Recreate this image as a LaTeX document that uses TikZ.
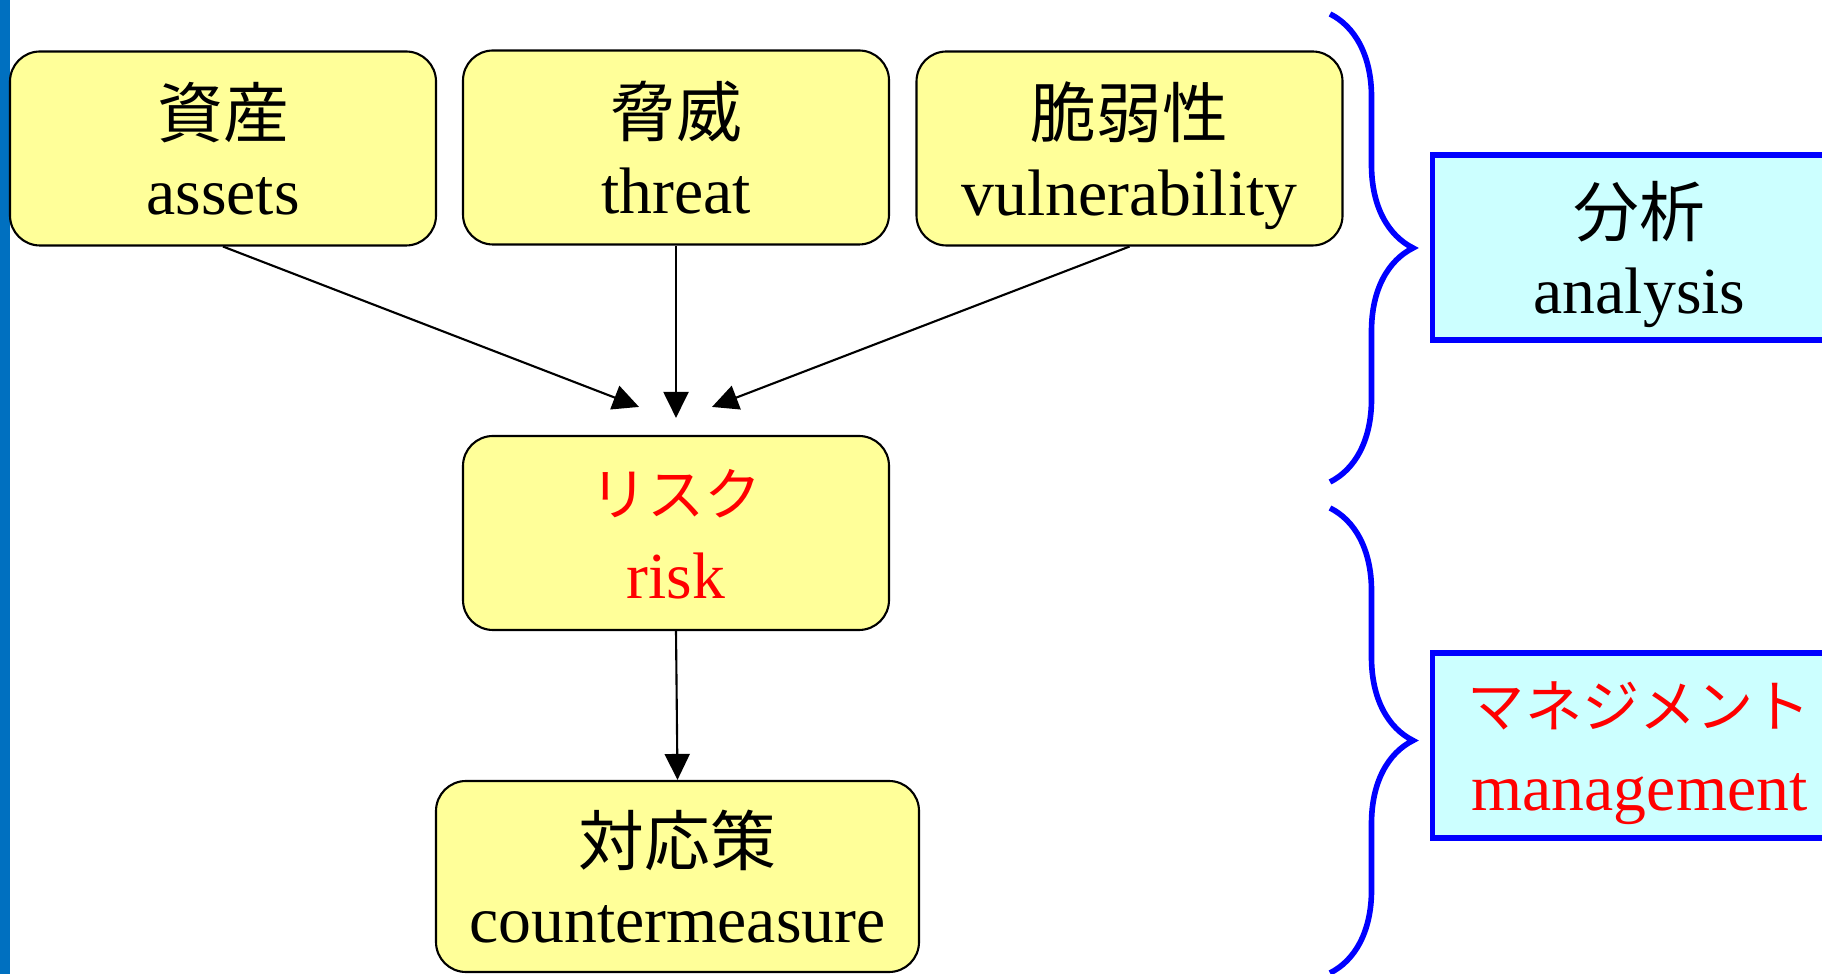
\documentclass[tikz,border=0pt]{standalone}
\usepackage{fontspec}
\setmainfont{Liberation Serif}
\newfontfamily\jpfont{Noto Sans CJK JP}
\newfontfamily\kanafont{Noto Sans CJK JP}[Scale=0.87]
\usepackage{xcolor}
\usetikzlibrary{arrows.meta,positioning,decorations.pathreplacing,calc}

\definecolor{itemyellow}{RGB}{255,255,153}
\definecolor{phasecyan}{RGB}{204,255,255}
\definecolor{sidebar}{RGB}{0,112,192}

% Two-line label: Japanese over English
\newcommand{\duo}[2]{\rule{0pt}{15pt}#1\\\raisebox{0pt}[\height][0pt]{#2}}
\newcommand{\kana}[1]{\raisebox{1.5pt}{\kanafont #1}}

\begin{document}
\begin{tikzpicture}[
    item/.style={draw, rounded corners=0.3cm, fill=itemyellow, line width=0.6pt,
        minimum width=4.26cm, minimum height=1.94cm, align=center,
        font=\fontsize{18.7}{22}\selectfont},
    phase/.style={draw=blue, fill=phasecyan, line width=1.5pt,
        minimum width=4.14cm, minimum height=1.85cm, align=center,
        font=\fontsize{18.7}{22}\selectfont},
    flow/.style={-{Triangle[length=0.26cm,width=0.25cm]}, line width=0.6pt},
    group/.style={draw=blue, line width=1.6pt, decorate,
        decoration={brace, amplitude=0.83cm}}
]
    \clip (0,0) rectangle (18.22,-9.74);

    % Side bar
    \fill[sidebar] (0,0) rectangle (0.105,-9.74);

    % Boxes for the three inputs
    \node[item] (assets) at (2.23,-1.485) {\duo{\jpfont 資産}{assets}};
    \node[item] (threat) at (6.76,-1.475) {\duo{\jpfont 脅威}{threat}};
    \node[item] (vuln) at (11.295,-1.485) {\duo{\jpfont 脆弱性}{vulnerability}};

    % Risk and countermeasure
    \node[item, text=red] (risk) at (6.76,-5.33) {\duo{\kana{リスク}}{risk}};
    \node[item, minimum width=4.83cm, minimum height=1.91cm] (counter) at (6.775,-8.765) {\duo{\jpfont 対応策}{countermeasure}};

    % Arrow ends above the risk box
    \coordinate (inA) at ($(risk.north) + (-0.37,0.28)$);
    \coordinate (inT) at ($(risk.north) + (0,0.17)$);
    \coordinate (inV) at ($(risk.north) + (0.36,0.28)$);

    % Arrows into risk
    \draw[flow] (assets.south) -- (inA);
    \draw[flow] (threat.south) -- (inT);
    \draw[flow] (vuln.south) -- (inV);

    % Arrow from risk to countermeasure
    \draw[flow] (risk.south) -- (counter.north);

    % Phase boxes on the right
    \node[phase] (analysis) at (16.395,-2.475) {\duo{\jpfont 分析}{analysis}};
    \node[phase, text=red] (manage) at (16.395,-7.455) {\duo{\kana{マネジメント}}{management}};

    % Braces grouping the steps
    \coordinate (atop) at (13.3,-0.14);
    \coordinate (abot) at (13.3,-4.82);
    \coordinate (mtop) at (13.3,-5.08);
    \coordinate (mbot) at (13.3,-9.73);
    \draw[group] (atop) -- (abot);
    \draw[group] (mtop) -- (mbot);
\end{tikzpicture}
\end{document}
